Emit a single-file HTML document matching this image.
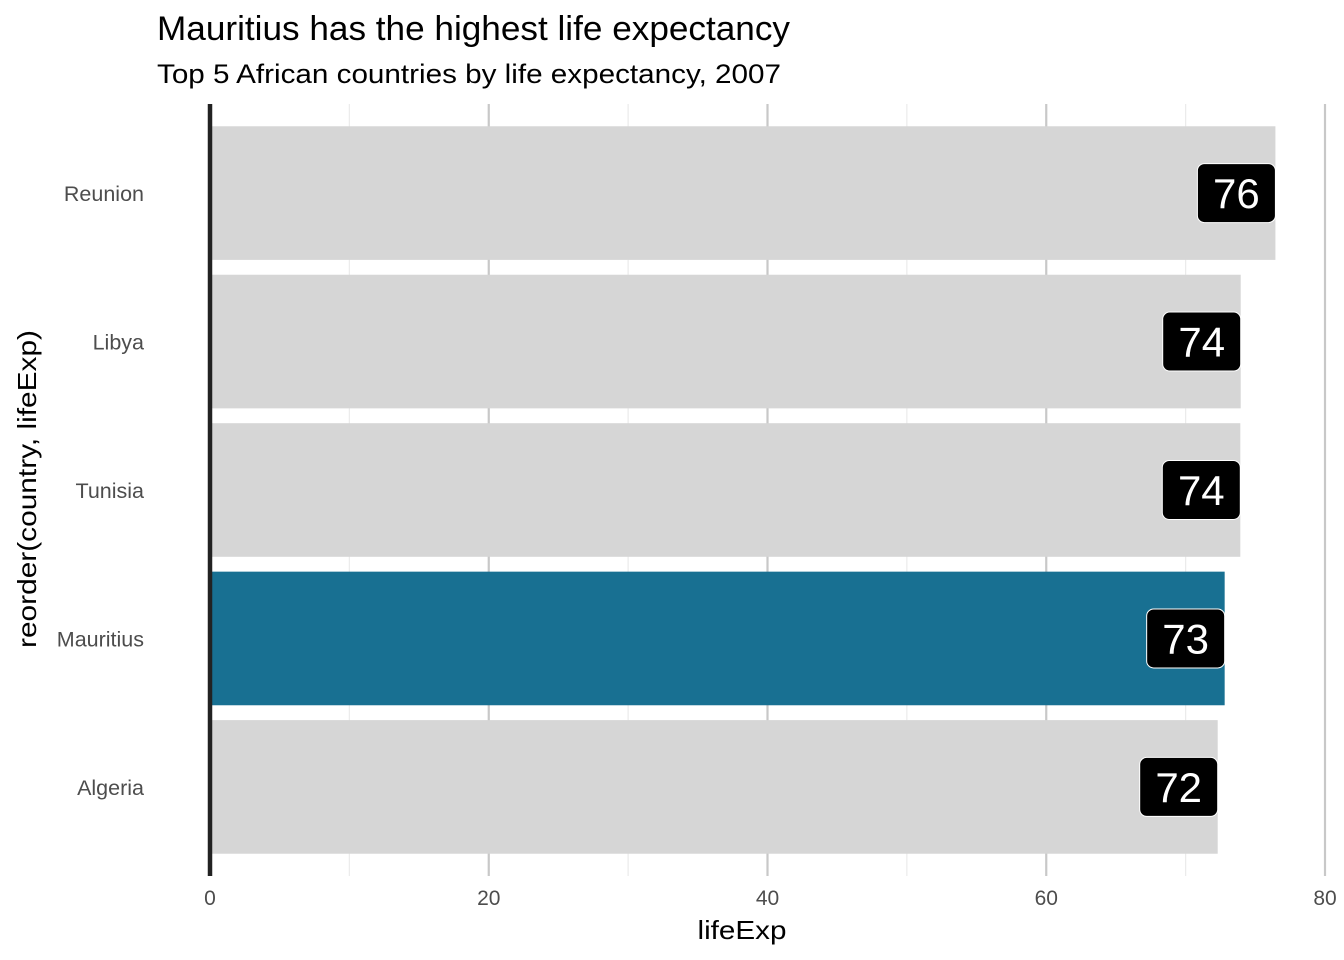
<!DOCTYPE html>
<html><head><meta charset="utf-8"><style>
body{margin:0;background:#fff;}
svg{display:block;font-family:"Liberation Sans",Arial,sans-serif;}
</style></head><body>
<svg id="chart" width="1344" height="960">
<text x="157" y="40" font-size="34" textLength="633" lengthAdjust="spacingAndGlyphs" fill="#000">Mauritius has the highest life expectancy</text>
<text x="157" y="83" font-size="27" textLength="624" lengthAdjust="spacingAndGlyphs" fill="#000">Top 5 African countries by life expectancy, 2007</text>
<text transform="translate(36,489) rotate(-90)" text-anchor="middle" font-size="26" textLength="318" lengthAdjust="spacingAndGlyphs" fill="#000">reorder(country, lifeExp)</text>
<text x="742" y="939" text-anchor="middle" font-size="26" textLength="89" lengthAdjust="spacingAndGlyphs" fill="#000">lifeExp</text>
<g id="grid"></g><g id="bars"></g><g id="labels"></g><g id="axes"></g>
</svg>
<script>
const countries = ["Reunion","Libya","Tunisia","Mauritius","Algeria"];
const lifeExp = [76.442,73.952,73.923,72.801,72.301];
const highlight = ["Mauritius"];
const xTicks = [0,20,40,60,80];
const xMinor = [10,30,50,70];

const NS="http://www.w3.org/2000/svg";
const x0=210,x1=1325,xMax=80;
const xs=v=>x0+(v/xMax)*(x1-x0);
const pTop=104,pBot=876;
const band=(pBot-pTop)/(countries.length-1+1.2);
const yc=i=>pTop+band*0.6+i*band;
function mk(tag,attrs,parent){const e=document.createElementNS(NS,tag);for(const k in attrs)e.setAttribute(k,attrs[k]);parent.appendChild(e);return e;}
const grid=document.getElementById('grid'),bars=document.getElementById('bars'),labels=document.getElementById('labels'),axes=document.getElementById('axes');
xMinor.forEach(v=>{const l=mk('line',{x1:xs(v),x2:xs(v),y1:pTop,y2:pBot,stroke:'#ebebeb','stroke-width':1.2},grid);

});
xTicks.forEach(v=>{const l=mk('line',{x1:xs(v),x2:xs(v),y1:pTop,y2:pBot,stroke:'#c8c8c8','stroke-width':2.2},grid);


const t=mk('text',{x:xs(v),y:905,'text-anchor':'middle','font-size':21,fill:'#4d4d4d'},axes);t.textContent=v;

});
countries.forEach((c,i)=>{
const h=band*0.9,y=yc(i)-h/2,xe=xs(lifeExp[i]);
const r=mk('rect',{x:x0,y:y,width:xe-x0,height:h,fill:highlight.includes(c)?'#187092':'#d6d6d6'},bars);


const yl=mk('text',{x:144,y:yc(i)+8,'text-anchor':'end','font-size':21.5,fill:'#4d4d4d'},axes);yl.textContent=c;


const g=mk('g',{},labels);


mk('rect',{x:xe-78,y:yc(i)-29.5,width:78,height:59,rx:7,fill:'#000',stroke:'#fff','stroke-width':1},g);
const t=mk('text',{x:xe-39,y:yc(i)+15,'text-anchor':'middle','font-size':42,fill:'#fff'},g);t.textContent=Math.round(lifeExp[i]);
});
const ax=mk('line',{x1:x0,x2:x0,y1:pTop,y2:pBot,stroke:'#222','stroke-width':4.5},axes);


</script>
</body></html>
